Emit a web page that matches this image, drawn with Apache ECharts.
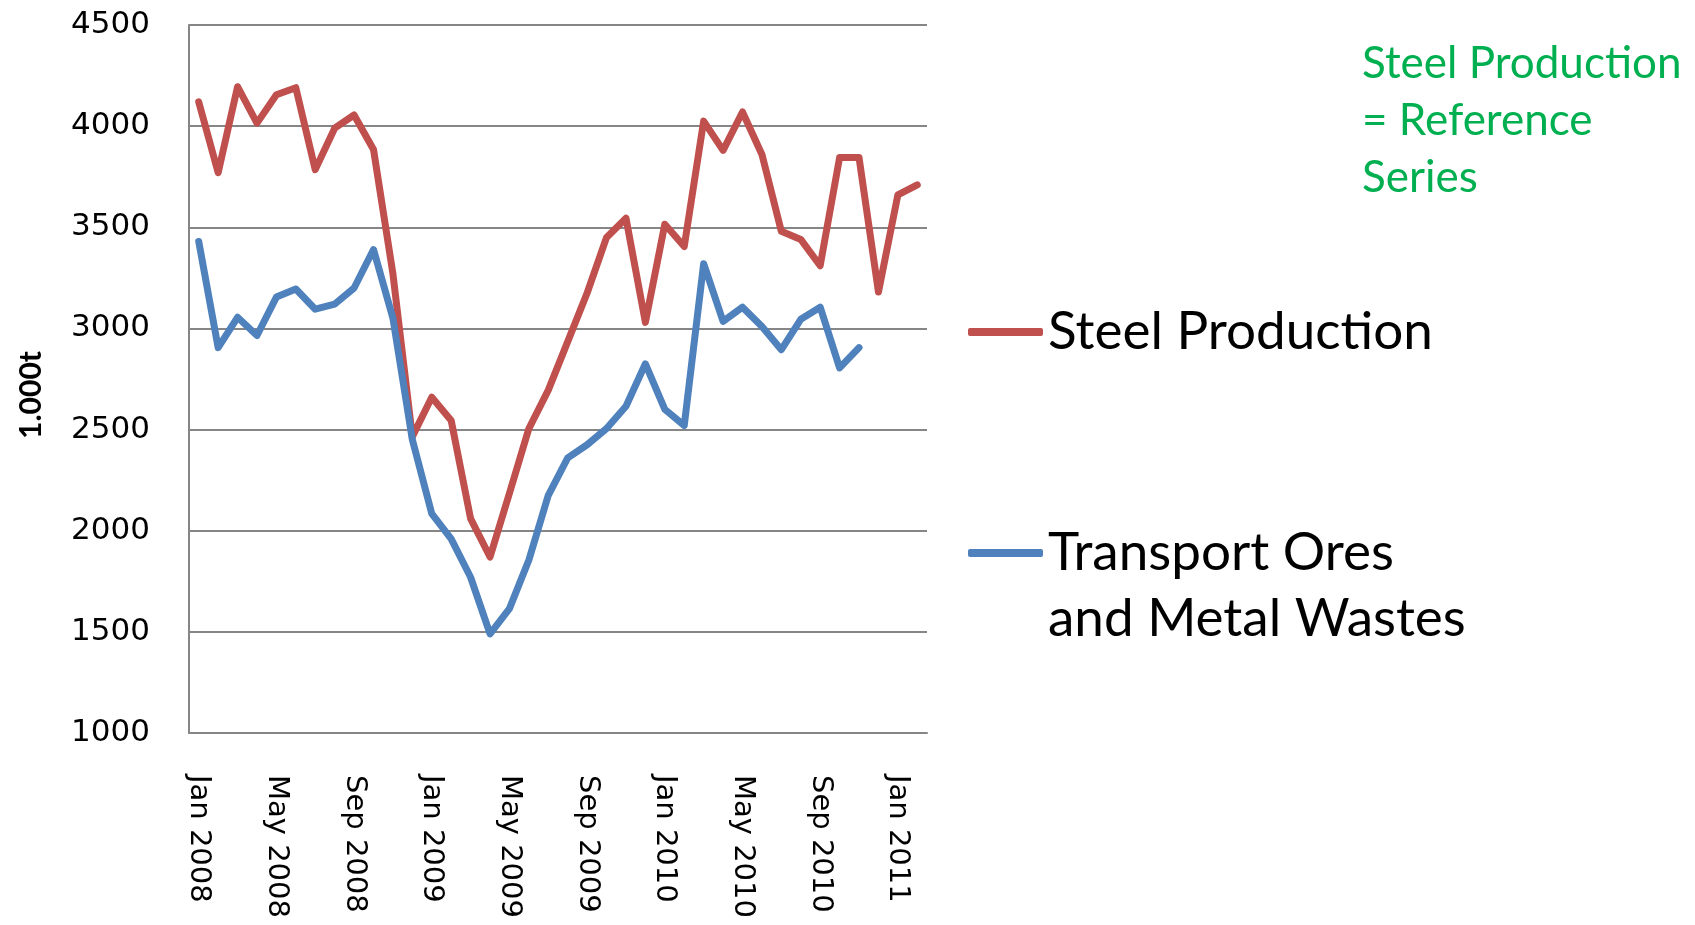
<!DOCTYPE html>
<html>
<head>
    <meta charset="utf-8">
    <title>Steel Production vs Transport</title>
    <script src="https://cdn.jsdelivr.net/npm/echarts@6/dist/echarts.min.js"></script>
    <style>
        html, body { margin: 0; padding: 0; background: #fff; }
    </style>
</head>
<body>
    <div id="main" style="width: 1695px;height: 925px;"></div>
    <script type="text/javascript">
// month labels, Jan 2008 .. Feb 2011
var months = ['Jan 2008', 'Feb 2008', 'Mar 2008', 'Apr 2008', 'May 2008', 'Jun 2008',
    'Jul 2008', 'Aug 2008', 'Sep 2008', 'Oct 2008', 'Nov 2008', 'Dec 2008',
    'Jan 2009', 'Feb 2009', 'Mar 2009', 'Apr 2009', 'May 2009', 'Jun 2009',
    'Jul 2009', 'Aug 2009', 'Sep 2009', 'Oct 2009', 'Nov 2009', 'Dec 2009',
    'Jan 2010', 'Feb 2010', 'Mar 2010', 'Apr 2010', 'May 2010', 'Jun 2010',
    'Jul 2010', 'Aug 2010', 'Sep 2010', 'Oct 2010', 'Nov 2010', 'Dec 2010',
    'Jan 2011', 'Feb 2011'];

// 1.000 t
var steelProduction = [4120, 3770, 4195, 4015, 4155, 4190, 3785, 3990, 4055, 3885, 3270, 2465,
    2660, 2545, 2060, 1870, 2185, 2505, 2695, 2935, 3175, 3450, 3545, 3030,
    3515, 3405, 4025, 3880, 4070, 3860, 3480, 3440, 3310, 3845, 3845, 3180,
    3660, 3710];

var transportOres = [3430, 2905, 3055, 2965, 3155, 3195, 3095, 3120, 3200, 3390, 3050, 2450,
    2085, 1960, 1770, 1490, 1615, 1855, 2175, 2360, 2425, 2505, 2615, 2825,
    2600, 2520, 3320, 3035, 3105, 3010, 2895, 3045, 3105, 2805, 2905, null,
    null, null];

var yTicks = { min: 1000, max: 4500, step: 500 };

var steelName = 'Steel Production';
var transportName = 'Transport Ores\nand Metal Wastes';

var myChart = echarts.init(document.getElementById('main'));

var gridColor = '#868686';

var legendText = { fontFamily: 'Lato', fontSize: 53, lineHeight: 66, color: '#000' };

myChart.setOption({
    animation: false,
    color: ['#C0504D', '#4F81BD'],
    title: {
        text: 'Steel Production\n= Reference\nSeries',
        left: 1357,
        top: 30,
        textStyle: {
            color: '#00B050',
            fontFamily: 'Lato',
            fontWeight: 'normal',
            fontSize: 44,
            lineHeight: 57
        }
    },
    legend: [
        {
            data: [steelName],
            left: 963,
            top: 294,
            icon: 'roundRect',
            itemWidth: 75,
            itemHeight: 8,
            textStyle: legendText
        },
        {
            data: [transportName],
            left: 963,
            top: 449,
            icon: 'roundRect',
            itemWidth: 75,
            itemHeight: 8,
            // blank first line keeps the icon level with "Transport Ores"
            formatter: function (name) { return '\n' + name; },
            textStyle: legendText
        }
    ],
    grid: {
        left: 189,
        top: 25,
        width: 738,
        height: 708
    },
    xAxis: {
        type: 'category',
        data: months,
        boundaryGap: true,
        axisLine: { lineStyle: { color: gridColor, width: 2 } },
        axisTick: { show: false },
        axisLabel: {
            interval: 3,
            rotate: -90,
            margin: 42,
            color: '#000',
            fontFamily: 'DejaVu Sans',
            fontSize: 29
        }
    },
    yAxis: {
        type: 'value',
        min: yTicks.min,
        max: yTicks.max,
        interval: yTicks.step,
        axisLine: { show: true, lineStyle: { color: gridColor, width: 2 } },
        axisTick: { show: false },
        splitLine: { lineStyle: { color: gridColor, width: 2 } },
        axisLabel: {
            margin: 39,
            color: '#000',
            fontFamily: 'DejaVu Sans',
            fontSize: 31,
            formatter: function (v) { return String(v); }
        }
    },
    graphic: [
        {
            type: 'text',
            x: 31,
            y: 395,
            rotation: Math.PI / 2,
            style: {
                text: '1.000t',
                fontFamily: 'Lato',
                fontWeight: 'bold',
                fontSize: 30,
                fill: '#000',
                align: 'center',
                verticalAlign: 'middle'
            }
        }
    ],
    series: [
        {
            name: steelName,
            type: 'line',
            data: steelProduction,
            symbol: 'none',
            lineStyle: { width: 7, join: 'round', cap: 'round' }
        },
        {
            name: transportName,
            type: 'line',
            data: transportOres,
            symbol: 'none',
            lineStyle: { width: 7, join: 'round', cap: 'round' }
        }
    ]
});
    </script>
</body>
</html>
